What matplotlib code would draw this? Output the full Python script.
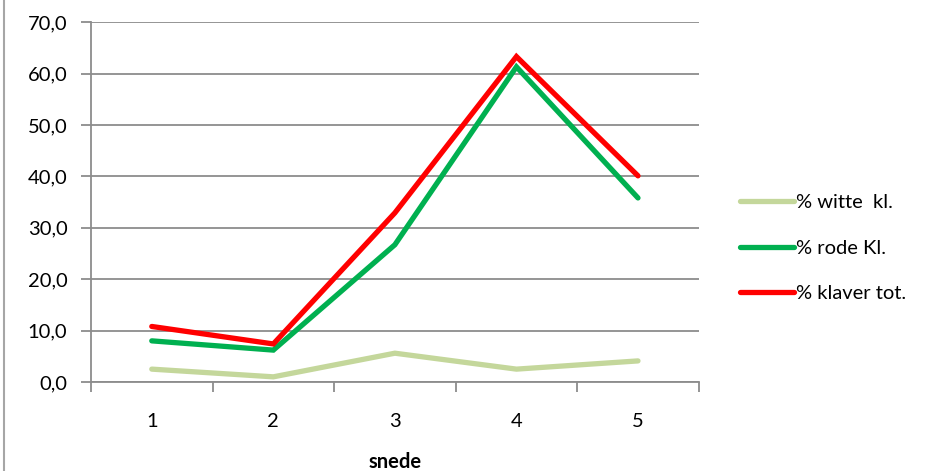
import matplotlib.pyplot as plt
from matplotlib.lines import Line2D
from matplotlib.ticker import FuncFormatter

snede = [1, 2, 3, 4, 5]
witte = [2.5, 1.0, 5.6, 2.5, 4.1]
rode = [8.0, 6.2, 26.7, 61.3, 35.8]
klaver_tot = [10.8, 7.4, 32.9, 63.3, 40.1]

series = [
    ("% witte  kl.", witte, "#c4d79b"),
    ("% rode Kl.", rode, "#00b050"),
    ("% klaver tot.", klaver_tot, "#ff0000"),
]

plt.rcParams["font.family"] = ["Lato", "DejaVu Sans"]
grid_col = "#8c8c8c"
fs = 14.5

fig = plt.figure(figsize=(9.43, 4.71), dpi=100)
ax = fig.add_axes([0.0965, 0.189, 0.6445, 0.764])

x = list(range(len(snede)))
for label, vals, col in series:
    ax.plot(x, vals, color=col, lw=3.8, solid_capstyle="round",
            solid_joinstyle="miter", label=label)

ax.set_xlim(-0.5, len(snede) - 0.5)
ax.set_ylim(0, 70)
ax.set_yticks(range(0, 71, 10))
ax.yaxis.set_major_formatter(FuncFormatter(lambda v, _: f"{v:.1f}".replace(".", ",")))
ax.yaxis.grid(True, color=grid_col, lw=1.3)
ax.set_axisbelow(True)

ax.set_xticks(x)
ax.set_xticklabels([str(s) for s in snede])
ax.set_xticks([i - 0.5 for i in range(len(snede) + 1)], minor=True)
ax.tick_params(axis="x", which="major", length=0, pad=22, labelsize=fs)
ax.tick_params(axis="x", which="minor", length=7, width=1.3, color=grid_col)
ax.tick_params(axis="y", length=7, width=1.3, color=grid_col, pad=10, labelsize=fs)

for s in ["top", "right"]:
    ax.spines[s].set_visible(False)
for s in ["left", "bottom"]:
    ax.spines[s].set_color(grid_col)
    ax.spines[s].set_linewidth(1.3)

ax.set_xlabel("snede", fontsize=fs, fontweight="bold", labelpad=16)

handles = [Line2D([], [], color=c, lw=3.8, solid_capstyle="round") for _, _, c in series]
fig.legend(handles, [l for l, _, _ in series], loc="center left",
           bbox_to_anchor=(0.765, 0.473), frameon=False, fontsize=fs,
           handlelength=2.7, handletextpad=0.1, labelspacing=1.4)

# outer chart frame edge
fig.add_artist(Line2D([0.004, 0.004], [0, 1], color="#a6a6a6", lw=1.5))

fig.savefig("out.png", dpi=100)
